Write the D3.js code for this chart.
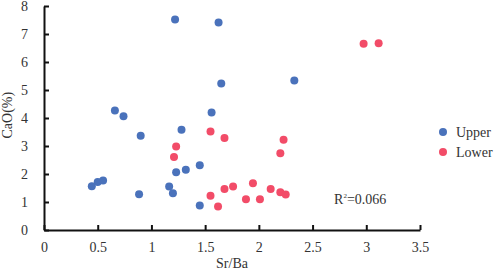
<!DOCTYPE html>
<html>
<head>
<meta charset="utf-8">
<script src="https://cdn.jsdelivr.net/npm/d3@7"></script>
<style>
  body { margin: 0; background: #fff; }
  svg text { font-family: "Liberation Serif", "DejaVu Serif", "Times New Roman", serif; fill: #333; }
</style>
</head>
<body>
<div id="chart-area"></div>
<script>
// Sr/Ba vs CaO(%)
var upperX = [1.22, 1.625, 1.65, 2.33, 0.66, 0.74, 1.56, 1.28, 0.90, 1.45, 1.23, 1.32, 0.445, 0.50, 0.55, 0.885, 1.165, 1.20, 1.45];
var upperY = [7.52, 7.41, 5.23, 5.34, 4.27, 4.06, 4.20, 3.58, 3.37, 2.31, 2.06, 2.15, 1.56, 1.71, 1.77, 1.28, 1.55, 1.31, 0.875];
var lowerX = [2.975, 3.115, 1.55, 1.68, 2.23, 2.20, 1.23, 1.21, 1.55, 1.62, 1.68, 1.76, 1.88, 1.945, 2.01, 2.11, 2.20, 2.25];
var lowerY = [6.65, 6.67, 3.52, 3.29, 3.22, 2.74, 2.98, 2.61, 1.22, 0.84, 1.46, 1.55, 1.10, 1.67, 1.10, 1.46, 1.35, 1.27];
var xTicks = [0, 0.5, 1, 1.5, 2, 2.5, 3, 3.5];
var yTicks = [0, 1, 2, 3, 4, 5, 6, 7, 8];
var seriesNames = ["Upper", "Lower"];
var colors = ["#4a72bb", "#f24c68"];

var margin = {left: 44, right: 78, top: 6, bottom: 44};
var width = 498 - margin.left - margin.right;
var height = 274 - margin.top - margin.bottom;

var svg = d3.select("#chart-area").append("svg")
  .attr("width", 498)
  .attr("height", 274);
var g = svg.append("g")
  .attr("transform", "translate(" + margin.left + ", " + margin.top + ")");

var x = d3.scaleLinear().domain([0, 3.5]).range([0, width]);
var y = d3.scaleLinear().domain([0, 8]).range([height, 0]);

var xAxis = d3.axisBottom(x).tickValues(xTicks).tickSizeInner(-5).tickSizeOuter(0).tickPadding(12)
  .tickFormat(d3.format(""));
var yAxis = d3.axisLeft(y).tickValues(yTicks).tickSizeInner(-5).tickSizeOuter(0).tickPadding(12);

var xg = g.append("g").attr("transform", "translate(0, " + height + ")").call(xAxis);
var yg = g.append("g").call(yAxis);
[xg, yg].forEach(function(a) {
  a.attr("font-family", null);
  a.select(".domain").attr("stroke", "#111").attr("stroke-width", 2);
  a.selectAll(".tick line").attr("stroke", "#111").attr("stroke-width", 2);
  a.selectAll(".tick text").attr("font-size", "14px").attr("fill", "#333");
});
yg.selectAll(".tick text").attr("dx", "-4");

// labels
g.append("text")
  .attr("x", x(1.75))
  .attr("y", height + 38)
  .attr("font-size", "14px")
  .attr("text-anchor", "middle")
  .text("Sr/Ba");
g.append("text")
  .attr("transform", "translate(" + (-margin.left + 12) + ", " + y(4.1) + ") rotate(-90)")
  .attr("font-size", "14px")
  .attr("text-anchor", "middle")
  .text("CaO(%)");

var upper = upperX.map(function(d, i) { return {x: d, y: upperY[i]}; });
var lower = lowerX.map(function(d, i) { return {x: d, y: lowerY[i]}; });

[upper, lower].forEach(function(data, k) {
  g.selectAll(".pt" + k).data(data).enter().append("circle")
    .attr("class", "pt" + k)
    .attr("cx", function(d) { return x(d.x); })
    .attr("cy", function(d) { return y(d.y); })
    .attr("r", 4)
    .attr("fill", colors[k]);
});

// R2
var r2 = g.append("text")
  .attr("x", x(2.7))
  .attr("y", y(0.93))
  .attr("font-size", "14px");
r2.append("tspan").text("R");
r2.append("tspan").attr("font-size", "7px").attr("dy", "-6").text("2");
r2.append("tspan").attr("dy", "6").text("=0.066");

// legend
var legend = g.selectAll(".legend").data(seriesNames).enter().append("g")
  .attr("transform", function(d, i) { return "translate(" + (width + 23) + ", " + (126 + i * 20) + ")"; });
legend.append("circle").attr("r", 4).attr("fill", function(d, i) { return colors[i]; });
legend.append("text").attr("x", 13).attr("y", 4.5).attr("font-size", "14px").text(function(d) { return d; });
</script>
</body>
</html>
